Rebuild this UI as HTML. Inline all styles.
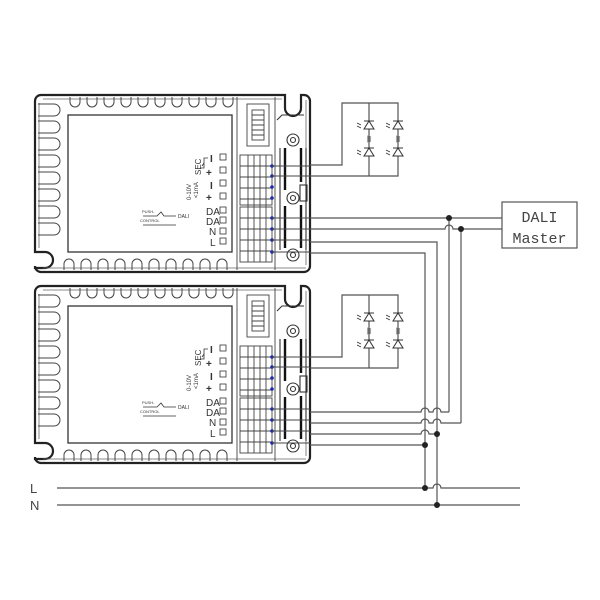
<!DOCTYPE html>
<html><head><meta charset="utf-8"><style>
html,body{margin:0;padding:0;background:#fff;}
svg{display:block;}
</style></head><body>
<svg width="600" height="600" viewBox="0 0 600 600" xmlns="http://www.w3.org/2000/svg" font-family="Liberation Sans, sans-serif">
<defs>
<g id="dev">
  <path d="M41,95 H285 V108 a8,8 0 0 0 16,0 V95 H304 a6,6 0 0 1 6,6 V266 a6,6 0 0 1 -6,6 H41 a6,6 0 0 1 -6,-6 V268 H45 a8,8 0 0 0 0,-16 H35 V101 a6,6 0 0 1 6,-6 Z" fill="none" stroke="#222" stroke-width="2.2"/>
  <path d="M43,99 H282 M39,103 V248 M43,268 H306 M306,100 V265" fill="none" stroke="#666" stroke-width="0.8"/>
  <g fill="none" stroke="#444" stroke-width="1">
    <path d="M38,104 H54 a6,6 0 0 1 0,12 H38"/>
    <path d="M38,121 H54 a6,6 0 0 1 0,12 H38"/>
    <path d="M38,138 H54 a6,6 0 0 1 0,12 H38"/>
    <path d="M38,155 H54 a6,6 0 0 1 0,12 H38"/>
    <path d="M38,172 H54 a6,6 0 0 1 0,12 H38"/>
    <path d="M38,189 H54 a6,6 0 0 1 0,12 H38"/>
    <path d="M38,206 H54 a6,6 0 0 1 0,12 H38"/>
    <path d="M38,223 H54 a6,6 0 0 1 0,12 H38"/>
  </g>
  <g fill="none" stroke="#444" stroke-width="1">
    <path d="M70,97 v5 a5,5 0 0 0 10,0 v-5 M87,97 v5 a5,5 0 0 0 10,0 v-5 M104,97 v5 a5,5 0 0 0 10,0 v-5 M121,97 v5 a5,5 0 0 0 10,0 v-5 M138,97 v5 a5,5 0 0 0 10,0 v-5 M155,97 v5 a5,5 0 0 0 10,0 v-5 M172,97 v5 a5,5 0 0 0 10,0 v-5 M189,97 v5 a5,5 0 0 0 10,0 v-5 M206,97 v5 a5,5 0 0 0 10,0 v-5 M223,97 v5 a5,5 0 0 0 10,0 v-5"/>
    <path d="M64,270 v-6 a5,5 0 0 1 10,0 v6 M81,270 v-6 a5,5 0 0 1 10,0 v6 M98,270 v-6 a5,5 0 0 1 10,0 v6 M115,270 v-6 a5,5 0 0 1 10,0 v6 M132,270 v-6 a5,5 0 0 1 10,0 v6 M149,270 v-6 a5,5 0 0 1 10,0 v6 M166,270 v-6 a5,5 0 0 1 10,0 v6 M183,270 v-6 a5,5 0 0 1 10,0 v6 M200,270 v-6 a5,5 0 0 1 10,0 v6 M217,270 v-6 a5,5 0 0 1 10,0 v6"/>
  </g>
  <rect x="68" y="115" width="164" height="137" fill="none" stroke="#333" stroke-width="1.3"/>
  <g font-size="10" fill="#333">
    <text x="210" y="162" font-weight="bold">I</text>
    <text x="206" y="176" font-weight="bold">+</text>
    <text x="210" y="189" font-weight="bold">I</text>
    <text x="206" y="201" font-weight="bold">+</text>
    <text x="206" y="215">DA</text>
    <text x="206" y="225">DA</text>
    <text x="209" y="235">N</text>
    <text x="210" y="246">L</text>
  </g>
  <g fill="none" stroke="#333" stroke-width="0.8">
    <rect x="220" y="154" width="6" height="6"/><rect x="220" y="167" width="6" height="6"/>
    <rect x="220" y="180" width="6" height="6"/><rect x="220" y="193" width="6" height="6"/>
    <rect x="220" y="207" width="6" height="6"/><rect x="220" y="217" width="6" height="6"/>
    <rect x="220" y="228" width="6" height="6"/><rect x="220" y="238" width="6" height="6"/>
    <path d="M208,158 h-4 v10 h-4 M204,163 l-2,3"/>
    <path d="M143,216 h14 l4,-4 l3,4 h12 M143,225 h33"/>
  </g>
  <text transform="translate(201,175) rotate(-90)" font-size="8" fill="#333">SEC</text>
  <text transform="translate(191,200) rotate(-90)" font-size="6" fill="#333">0-10V</text>
  <text transform="translate(198,198) rotate(-90)" font-size="6" fill="#333">&lt;1mA</text>
  <text x="142" y="213" font-size="4" fill="#333">PUSH-</text>
  <text x="140" y="222" font-size="4" fill="#333">CONTROL</text>
  <text x="178" y="218" font-size="5" fill="#333">DALI</text>
  <g fill="none" stroke="#444" stroke-width="0.9">
    <path d="M237,97 V270 M275,97 V270"/>
    <rect x="240" y="155" width="32" height="50"/>
    <rect x="240" y="207" width="32" height="55"/>
    <path d="M248,155 V262 M254,155 V262 M260,155 V262 M266,155 V262"/>
    <path d="M240,166 H272 M240,177 H272 M240,188 H272 M240,199 H272 M240,218 H272 M240,229 H272 M240,240 H272 M240,251 H272"/>
    <rect x="247" y="104" width="22" height="42"/>
    <rect x="252" y="110" width="12" height="30"/>
    <path d="M252,115 h12 M252,120 h12 M252,125 h12 M252,130 h12 M252,135 h12"/>
  </g>
  <g fill="#1a2aa8">
    <circle cx="272" cy="166" r="1.8"/><circle cx="272" cy="176" r="1.8"/>
    <circle cx="272" cy="187" r="1.8"/><circle cx="272" cy="198" r="1.8"/>
    <circle cx="272" cy="218" r="1.8"/><circle cx="272" cy="229" r="1.8"/>
    <circle cx="272" cy="240" r="1.8"/><circle cx="272" cy="252" r="1.8"/>
  </g>
  <g fill="none" stroke="#333" stroke-width="1.1">
    <circle cx="293" cy="140" r="6"/><circle cx="293" cy="140" r="2.5"/>
    <circle cx="293" cy="198" r="6"/><circle cx="293" cy="198" r="2.5"/>
    <circle cx="293" cy="255" r="6"/><circle cx="293" cy="255" r="2.5"/>
    <rect x="300" y="185" width="7" height="16"/>
    <path d="M277,120 L282,115 H304 M280,148 V250 M306,148 V250"/>
  </g>
  <path d="M285,148 V190 M285,206 V248 M301,148 V182 M301,205 V248" stroke="#111" stroke-width="2.4"/>
  <g stroke="#444" stroke-width="1">
    <path d="M272,166 H310 M272,176 H310 M272,218 H310 M272,229 H310 M272,240 H310 M272,252 H310"/>
  </g>
</g>
<g id="led">
  <path d="M0,0 L-5,0 L0,-8 L5,0 Z M-5,-8 H5" fill="#fff" stroke="#333" stroke-width="1"/>
  <path d="M-12,-6 l4,2 M-12,-3 l4,2" stroke="#333" stroke-width="0.8"/>
</g>
<path id="sq" d="M-2,0 l4,1 l-4,1 l4,1 l-4,1 l4,1 l-4,1" fill="none" stroke="#555" stroke-width="0.7"/>
</defs>

<use href="#dev"/>
<use href="#dev" transform="translate(0,191)"/>

<g fill="none" stroke="#555" stroke-width="1.2">
  <path d="M310,165 H342 V103 H398 V176 H310 M369,103 V176"/>
  <path d="M310,357 H342 V295 H398 V368 H310 M369,295 V368"/>
  <path d="M310,218 H502 M310,229 H445 a4,4 0 0 1 8,0 H502"/>
  <path d="M310,242 H437 V505"/>
  <path d="M310,253 H425 V488"/>
  <path d="M449,218 V412 M461,229 V423"/>
  <path d="M310,412 H421 a4,4 0 0 1 8,0 H433 a4,4 0 0 1 8,0 H449"/>
  <path d="M310,423 H421 a4,4 0 0 1 8,0 H433 a4,4 0 0 1 8,0 H461"/>
  <path d="M310,434 H421 a4,4 0 0 1 8,0 H437"/>
  <path d="M310,445 H425"/>
  <path d="M57,488 H433 a4,4 0 0 1 8,0 H520"/>
  <path d="M57,505 H520"/>
</g>
<g fill="#222">
  <circle cx="449" cy="218" r="3"/><circle cx="461" cy="229" r="3"/>
  <circle cx="437" cy="434" r="3"/><circle cx="425" cy="445" r="3"/>
  <circle cx="425" cy="488" r="3"/><circle cx="437" cy="505" r="3"/>
</g>
<use href="#led" transform="translate(369,129)"/><use href="#led" transform="translate(398,129)"/>
<use href="#led" transform="translate(369,156)"/><use href="#led" transform="translate(398,156)"/>
<use href="#led" transform="translate(369,321)"/><use href="#led" transform="translate(398,321)"/>
<use href="#led" transform="translate(369,348)"/><use href="#led" transform="translate(398,348)"/>
<use href="#sq" transform="translate(369,136)"/><use href="#sq" transform="translate(398,136)"/>
<use href="#sq" transform="translate(369,328)"/><use href="#sq" transform="translate(398,328)"/>
<rect x="502" y="202" width="75" height="46" fill="#fff" stroke="#555" stroke-width="1.2"/>
<text x="539.5" y="222" font-size="15" text-anchor="middle" font-family="Liberation Mono, monospace" fill="#444">DALI</text>
<text x="539.5" y="243" font-size="15" text-anchor="middle" font-family="Liberation Mono, monospace" fill="#444">Master</text>
<text x="30" y="493" font-size="13" fill="#444">L</text>
<text x="30" y="510" font-size="13" fill="#444">N</text>
</svg>
</body></html>
